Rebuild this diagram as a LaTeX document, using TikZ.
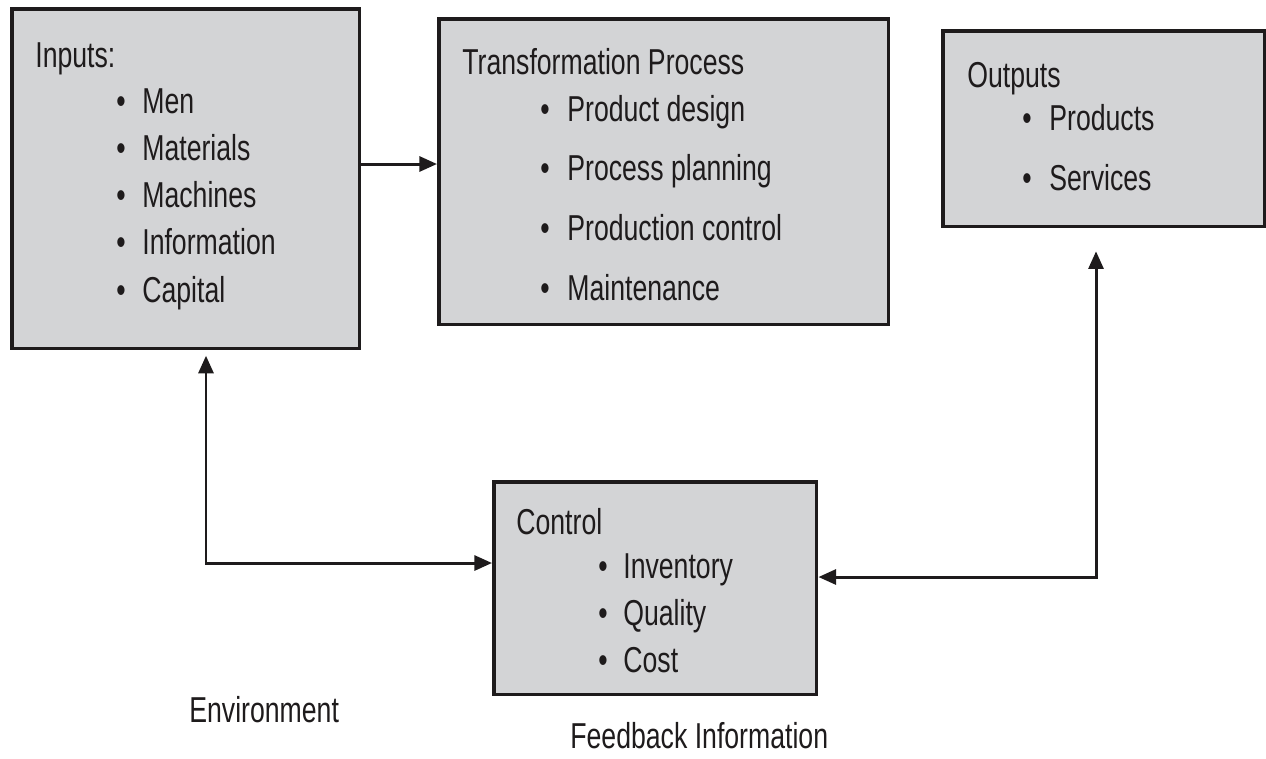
\documentclass[tikz,border=0pt]{standalone}
\usepackage{fontspec}
\setmainfont{Liberation Sans}[FakeStretch=0.74]
\usetikzlibrary{arrows.meta}

\definecolor{boxgray}{RGB}{211,212,214}
\definecolor{inkgray}{RGB}{30,27,28}

\tikzset{
  blockbox/.style={draw=inkgray, line width=2pt, fill=boxgray, inner sep=0pt, anchor=north west},
  label/.style={anchor=base west, inner sep=0pt, text=inkgray, font=\fontsize{20.5}{24}\selectfont},
  dot/.style={anchor=base, inner sep=0pt, text=inkgray, font=\fontsize{20.5}{24}\selectfont},
  tip/.style={-{Triangle[length=10pt,width=8.5pt]}},
  flow/.style={draw=inkgray, line width=1.7pt}
}

\begin{document}
\begin{tikzpicture}[x=0.02cm, y=-0.02cm]

  \useasboundingbox (0,0) rectangle (1266,758);

  % Boxes
  \node[blockbox, minimum width=6.96cm, minimum height=6.8cm] (inputs) at (10,7) {};
  \node[blockbox, minimum width=9.0cm, minimum height=6.12cm] (transform) at (437,17) {};
  \node[blockbox, minimum width=6.44cm, minimum height=3.92cm] (outputs) at (941,29) {};
  \node[blockbox, minimum width=6.46cm, minimum height=4.26cm] (control) at (492,480) {};

  % Inputs list
  \node[label] (inhead) at (35,67) {Inputs:};
  \foreach \txt [count=\i] in {Men,Materials,Machines,Information,Capital}
  {
    \pgfmathsetmacro{\y}{113+47.3*(\i-1)}
    \node[dot] (indot\i) at (121,\y) {\textbullet};
    \node[label] (initem\i) at (142,\y) {\txt};
  }

  % Transformation list
  \node[label] (trhead) at (462,74) {Transformation Process};
  \foreach \txt [count=\i] in {Product design,Process planning,Production control,Maintenance}
  {
    \pgfmathsetmacro{\y}{121+59.7*(\i-1)}
    \node[dot] (trdot\i) at (545,\y) {\textbullet};
    \node[label] (tritem\i) at (567,\y) {\txt};
  }

  % Outputs list
  \node[label] (outhead) at (967,87) {Outputs};
  \foreach \txt [count=\i] in {Products,Services}
  {
    \pgfmathsetmacro{\y}{130+60*(\i-1)}
    \node[dot] (outdot\i) at (1027,\y) {\textbullet};
    \node[label] (outitem\i) at (1049,\y) {\txt};
  }

  % Control list
  \node[label] (cthead) at (516,534) {Control};
  \foreach \txt [count=\i] in {Inventory,Quality,Cost}
  {
    \pgfmathsetmacro{\y}{578+47*(\i-1)}
    \node[dot] (ctdot\i) at (603,\y) {\textbullet};
    \node[label] (ctitem\i) at (623,\y) {\txt};
  }

  % Loose labels
  \node[label] (envlabel) at (189,722) {Environment};
  \node[label] (fblabel) at (570,748) {Feedback Information};

  % Connectors
  \coordinate (envcorner) at (206,563);
  \coordinate (fbcorner) at (1096,577);

  \draw[flow, tip] (inputs.east |- 0,164) -- (transform.west |- 0,164);
  \draw[flow, {Triangle[length=10pt,width=8.5pt]}-{Triangle[length=10pt,width=8.5pt]}, shorten <=3pt]
    (inputs.south -| envcorner) -- (envcorner) -- (control.west |- envcorner);
  \draw[flow, {Triangle[length=10pt,width=8.5pt]}-{Triangle[length=10pt,width=8.5pt]}, shorten <=13pt]
    (outputs.south -| fbcorner) -- (fbcorner) -- (control.east |- fbcorner);

\end{tikzpicture}
\end{document}
